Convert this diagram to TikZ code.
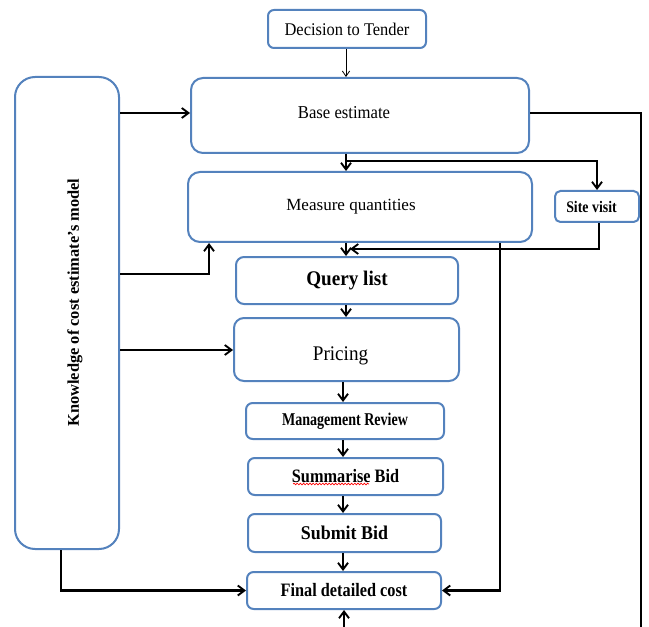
\documentclass[tikz,border=0pt]{standalone}
\usepackage{fontspec}
\setmainfont{Liberation Serif}
\newfontfamily\condA{Liberation Serif}[FakeStretch=0.92]
\newfontfamily\condB{Liberation Serif}[FakeStretch=0.86]
\newfontfamily\condC{Liberation Serif}[FakeStretch=0.78]
\usetikzlibrary{arrows.meta,decorations.pathmorphing}
\definecolor{boxblue}{RGB}{84,130,189}
\newcommand{\fsz}[1]{\fontsize{#1}{#1}\selectfont}
\begin{document}
\begin{tikzpicture}[x=0.75pt,y=-0.75pt,
  box/.style={draw=boxblue, line width=1.5pt, fill=white, rounded corners=#1, inner sep=0pt},
  box/.default=4.5pt,
  wh/.style 2 args={minimum width=#1*0.75pt, minimum height=#2*0.75pt},
  txt/.style={inner sep=0pt, text=black},
  conn/.style={line width=1.6pt, -{Straight Barb[length=5pt,width=7.5pt,line width=1.4pt]}},
  thinconn/.style={line width=0.6pt, -{Straight Barb[length=4pt,width=5.5pt,line width=0.6pt]}}]
\useasboundingbox (0,0) rectangle (649,627);
\clip (0,0) rectangle (649,627);
% boxes
\node[box=4.5pt, wh={158}{38}, font=\condA\fsz{13.4}] (dec) at (347,29) {Decision to Tender};
\node[box=9pt, wh={338}{75}] (base) at (360,115.5) {};
\node[txt, font=\condA\fsz{13.6}] (baset) at (344,113) {Base estimate};
\node[box=15pt, wh={104}{472}] (knw) at (67,313) {};
\node[txt, font=\bfseries\fsz{12.3}, rotate=90] (knwt) at (75,302.5) {Knowledge of cost estimate's model};
\node[box=9pt, wh={344}{70}] (meas) at (360,207) {};
\node[txt, font=\fsz{12.8}] (meast) at (351,207) {Measure quantities};
\node[box=4pt, wh={84}{31}] (site) at (597,206.5) {};
\node[txt, font=\condB\bfseries\fsz{12.1}] (sitet) at (591.5,206.5) {Site visit};
\node[box=6pt, wh={222}{47}, font=\condA\bfseries\fsz{15.6}] (query) at (347,280.5) {Query list};
\node[box=7.5pt, wh={225}{63}] (pric) at (346.5,349.5) {};
\node[txt, font=\condA\fsz{15.6}] (prict) at (340.5,356) {Pricing};
\node[box=5pt, wh={198}{36}, font=\condC\bfseries\fsz{13.5}] (mgmt) at (345,421) {Management Review};
\node[box=5pt, wh={195}{37}, font=\condB\bfseries\fsz{14.2}] (summ) at (345.5,476.5) {Summarise Bid};
\node[box=5pt, wh={193}{38}, font=\condA\bfseries\fsz{14.6}] (subm) at (344.5,533) {Submit Bid};
\node[box=5pt, wh={194}{37}, font=\condB\bfseries\fsz{14.2}] (fin) at (344,590.5) {Final detailed cost};
% spell-check squiggle
\draw[red, line width=0.5pt, decorate, decoration={snake, amplitude=0.6pt, segment length=2.4pt}] (293,484) -- (369,484);
% helper coordinates
\coordinate (ca) at (346,0);
\coordinate (cb) at (343,0);
\coordinate (br) at (346,161);
\coordinate (k2) at (209,274);
\coordinate (k3) at (0,350);
\coordinate (k4) at (61,0);
\coordinate (s2) at (350,249);
\coordinate (m2) at (500,0);
\coordinate (r1) at (641,660);
% connectors
\draw[thinconn] (ca |- dec.south) -- (ca |- base.north);
\draw[conn] (knw.east |- baset) -- (base.west |- baset);
\draw[conn] (ca |- base.south) -- (ca |- meas.north);
\draw[conn] (br) -| (site.north);
\draw[conn] (knw.east |- k2) -| (k2 |- meas.south);
\draw[conn] (ca |- meas.south) -- (ca |- query.north);
\draw[conn] ([xshift=1.5pt]site.south) |- (s2);
\draw[conn] (m2 |- meas.south) |- (fin.east);
\draw[conn] (ca |- query.south) -- (ca |- pric.north);
\draw[conn] (knw.east |- k3) -- (pric.west |- k3);
\draw[conn] (cb |- pric.south) -- (cb |- mgmt.north);
\draw[conn] (cb |- mgmt.south) -- (cb |- summ.north);
\draw[conn] (cb |- summ.south) -- (cb |- subm.north);
\draw[conn] (cb |- subm.south) -- (cb |- fin.north);
\draw[conn] (k4 |- knw.south) |- (fin.west);
\draw[conn] (base.east |- baset) -| (r1) -| (fin.south);
\end{tikzpicture}
\end{document}
